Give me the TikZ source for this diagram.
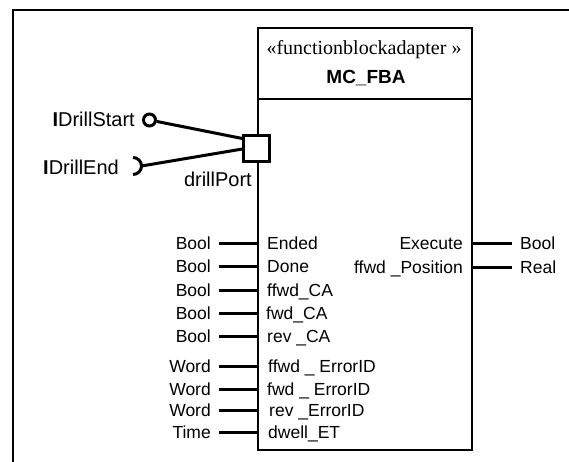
\documentclass[tikz,border=0pt]{standalone}
\usepackage{fontspec}
\setmainfont{Liberation Serif}
\setsansfont{Liberation Sans}
\usepackage{tikz}

\begin{document}
\begin{tikzpicture}[x=1pt,y=-1pt,
  fblock/.style={draw,line width=2.2pt,minimum width=214pt,minimum height=422pt,inner sep=0pt},
  port/.style={draw,line width=3pt,fill=white,minimum size=26pt,inner sep=0pt},
  provided/.style={draw,circle,line width=3pt,minimum size=12pt,inner sep=0pt},
  pin/.style={font=\sffamily\fontsize{17.5}{20}\selectfont,inner sep=0pt,text height=12.5pt,text depth=0pt},
  iname/.style={font=\sffamily\fontsize{20}{24}\selectfont,inner sep=0pt,text height=14.3pt,text depth=0pt},
  stub/.style={line width=3pt},
  link/.style={line width=3pt},
  frame/.style={line width=2.2pt},
]
  \useasboundingbox (0,0) rectangle (569,461);
  % outer frame (runs off the page at right and bottom)
  \begin{scope}
    \clip (0,0) rectangle (569,461);
    \draw[frame] (13,10) rectangle (600,490);
  \end{scope}

  % function block adapter
  \node[fblock] (mcfba) at (365,239) {};
  \draw[line width=2.2pt] (mcfba.west |- 0,99) -- (mcfba.east |- 0,99);
  \node[font=\fontsize{20}{24}\selectfont,anchor=base,inner sep=0pt] (stereo) at (364,54.5) {«functionblockadapter »};
  \node[font=\sffamily\bfseries\fontsize{19}{23}\selectfont,anchor=base,inner sep=0pt] (fbname) at (366,83) {MC\_FBA};

  % adapter port and interfaces
  \node[port] (drillport) at (mcfba.west |- 0,148.5) {};
  \node[iname,anchor=east] (lport) at (252,179) {drillPort};
  \node[provided] (istart) at (149.5,120) {};
  \node[iname,anchor=east] (lstart) at (135,119) {{\bfseries I}DrillStart};
  \coordinate (iend) at (141.5,166);
  \draw[line width=3pt] (133,157.5) arc[start angle=90,end angle=-90,radius=8.5pt];
  \node[iname,anchor=east] (lend) at (119,167) {{\bfseries I}DrillEnd};
  \draw[link] (istart) -- ([yshift=10pt]drillport.west);
  \draw[link] (iend) -- ([yshift=-0.5pt]drillport.west);

  % inputs
  \node[pin,anchor=west] (ended) at (267,243) {Ended};
  \node[pin,anchor=east] (tended) at (211,243) {Bool};
  \draw[stub] ([xshift=8pt]tended.east) -- (mcfba.west |- ended);
  \node[pin,anchor=west] (done) at (267,266) {Done};
  \node[pin,anchor=east] (tdone) at (211,266) {Bool};
  \draw[stub] ([xshift=8pt]tdone.east) -- (mcfba.west |- done);
  \node[pin,anchor=west] (ffwdca) at (267,290) {ffwd\_CA};
  \node[pin,anchor=east] (tffwdca) at (211,290) {Bool};
  \draw[stub] ([xshift=8pt]tffwdca.east) -- (mcfba.west |- ffwdca);
  \node[pin,anchor=west] (fwdca) at (266,313) {fwd\_CA};
  \node[pin,anchor=east] (tfwdca) at (211,313) {Bool};
  \draw[stub] ([xshift=8pt]tfwdca.east) -- (mcfba.west |- fwdca);
  \node[pin,anchor=west] (revca) at (267,336) {rev \_CA};
  \node[pin,anchor=east] (trevca) at (211,336) {Bool};
  \draw[stub] ([xshift=8pt]trevca.east) -- (mcfba.west |- revca);
  \node[pin,anchor=west] (ffwderr) at (268,366) {ffwd \_ ErrorID};
  \node[pin,anchor=east] (tffwderr) at (211,366) {Word};
  \draw[stub] ([xshift=8pt]tffwderr.east) -- (mcfba.west |- ffwderr);
  \node[pin,anchor=west] (fwderr) at (267,389) {fwd \_ ErrorID};
  \node[pin,anchor=east] (tfwderr) at (211,389) {Word};
  \draw[stub] ([xshift=8pt]tfwderr.east) -- (mcfba.west |- fwderr);
  \node[pin,anchor=west] (reverr) at (269,410) {rev \_ErrorID};
  \node[pin,anchor=east] (treverr) at (211,410) {Word};
  \draw[stub] ([xshift=8pt]treverr.east) -- (mcfba.west |- reverr);
  \node[pin,anchor=west] (dwell) at (268,432) {dwell\_ET};
  \node[pin,anchor=east] (tdwell) at (211,432) {Time};
  \draw[stub] ([xshift=8pt]tdwell.east) -- (mcfba.west |- dwell);

  % outputs
  \node[pin,anchor=east] (execute) at (463,243) {Execute};
  \node[pin,anchor=west] (texecute) at (520,243) {Bool};
  \draw[stub] (mcfba.east |- execute) -- ([xshift=-8pt]texecute.west);
  \node[pin,anchor=east] (ffwdpos) at (463,267) {ffwd \_Position};
  \node[pin,anchor=west] (tffwdpos) at (520,267) {Real};
  \draw[stub] (mcfba.east |- ffwdpos) -- ([xshift=-8pt]tffwdpos.west);
\end{tikzpicture}
\end{document}
